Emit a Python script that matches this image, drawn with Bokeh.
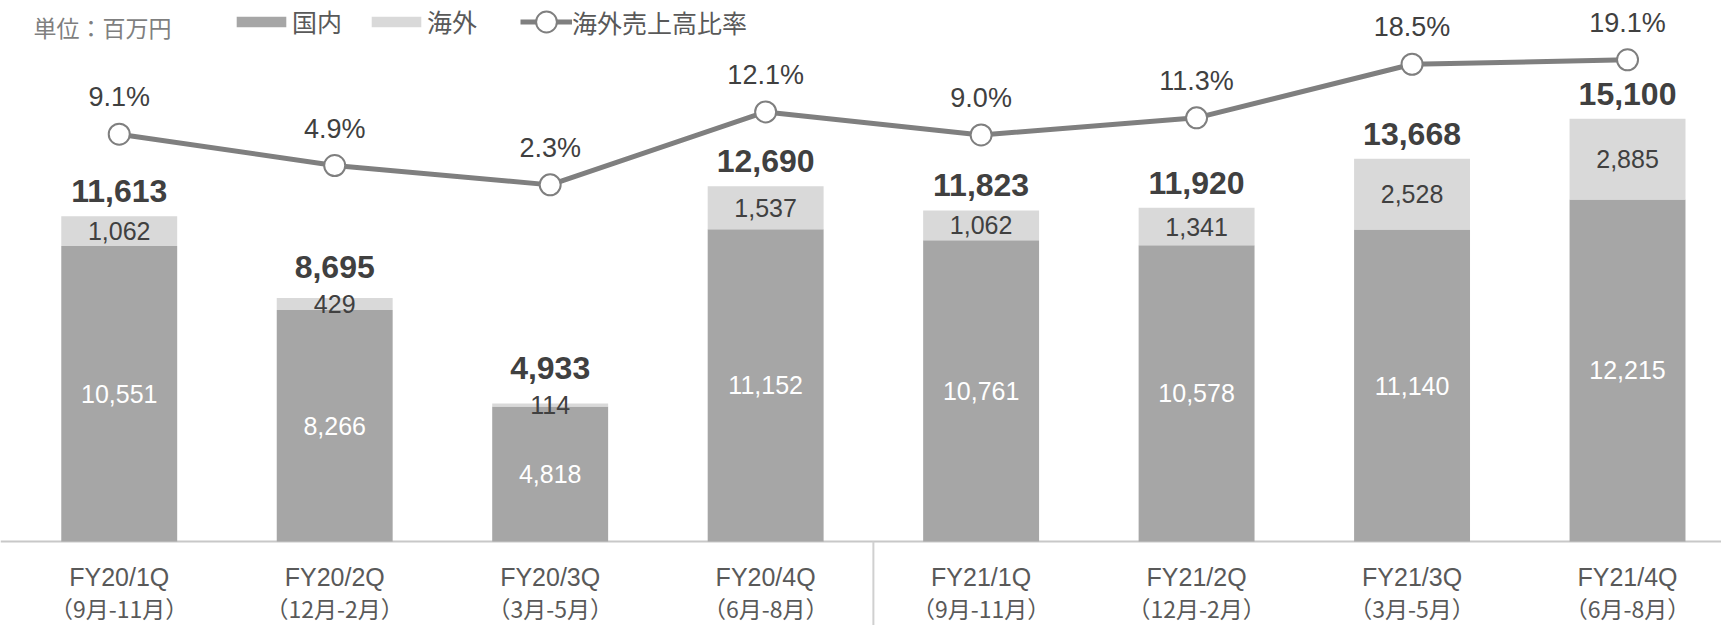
from bokeh.plotting import figure
from bokeh.models import ColumnDataSource, Range1d, Span, Legend, LegendItem, Label
from bokeh.core.properties import value
from bokeh.embed import file_html
from bokeh.resources import INLINE

# ---- data ----
quarters = ["FY20/1Q", "FY20/2Q", "FY20/3Q", "FY20/4Q",
            "FY21/1Q", "FY21/2Q", "FY21/3Q", "FY21/4Q"]
periods = ["（9月-11月）", "（12月-2月）", "（3月-5月）", "（6月-8月）",
           "（9月-11月）", "（12月-2月）", "（3月-5月）", "（6月-8月）"]
domestic = [10551, 8266, 4818, 11152, 10761, 10578, 11140, 12215]
overseas = [1062, 429, 114, 1537, 1062, 1341, 2528, 2885]
totals = [11613, 8695, 4933, 12690, 11823, 11920, 13668, 15100]
ratio = [9.1, 4.9, 2.3, 12.1, 9.0, 11.3, 18.5, 19.1]

# ---- layout constants (page has no margin: canvas == page) ----
W, H = 1721, 625
PX_CAT = 215.47           # px per category
X0 = -11 / PX_CAT
X1 = X0 + W / PX_CAT
K = 0.0280                # px per million yen
Y1 = 541 / K
Y0 = -(H - 541) / K
KR = 7.446                # px per percent
R1 = 201.5 / KR
R0 = -(H - 201.5) / KR

LATIN = "Liberation Sans"
CJK = "Noto Sans CJK JP"

def px_to_x(px):
    return X0 + px / PX_CAT

def py_to_y(py):
    return Y1 - py / K

xs = [i + 0.5 for i in range(len(quarters))]
dom_mid = [d / 2 for d in domestic]
ov_mid = [d + o / 2 for d, o in zip(domestic, overseas)]
# total labels sit above the bar, or above the overseas label if it overflows
total_anchor = [max(t, m + 12 / K) for t, m in zip(totals, ov_mid)]

src = ColumnDataSource(dict(
    x=xs, domestic=domestic, overseas=overseas, ratio=ratio,
    dom_mid=dom_mid, ov_mid=ov_mid, total_anchor=total_anchor,
    dom_txt=[f"{v:,}" for v in domestic],
    ov_txt=[f"{v:,}" for v in overseas],
    tot_txt=[f"{v:,}" for v in totals],
    pct_txt=[f"{v:.1f}%" for v in ratio],
    q=quarters, per=periods, zero=[0] * len(quarters),
))

p = figure(width=W, height=H, x_range=Range1d(X0, X1), y_range=Range1d(Y0, Y1),
           output_backend="svg", toolbar_location=None,
           x_axis_location=None, y_axis_location=None,
           min_border=0, min_border_left=0, min_border_right=0,
           min_border_top=0, min_border_bottom=0)
p.extra_y_ranges = {"ratio": Range1d(R0, R1)}
p.grid.visible = False
p.outline_line_color = None
p.background_fill_color = "white"
p.border_fill_color = "white"

# baseline (axis line) and FY separator
p.add_layout(Span(location=0, dimension="width", line_color="#c8c8c8",
                  line_width=2, level="underlay"))
sep = quarters.index("FY21/1Q")
p.segment(x0=[sep], y0=[0], x1=[sep], y1=[Y0], line_color="#d0d0d0", line_width=2)

bars = p.vbar_stack(["domestic", "overseas"], x="x", width=0.538,
                    color=["#a6a6a6", "#d9d9d9"], line_color=None, source=src)

line_r = p.line("x", "ratio", source=src, y_range_name="ratio",
                line_color="#7f7f7f", line_width=5)
dots_r = p.scatter("x", "ratio", source=src, y_range_name="ratio", size=21,
                   fill_color="white", line_color="#7f7f7f", line_width=2)

# value labels
p.text("x", "dom_mid", text="dom_txt", source=src, text_align="center",
       text_baseline="middle", text_font=value(LATIN), text_font_size="25px",
       text_color="white")
p.text("x", "ov_mid", text="ov_txt", source=src, text_align="center",
       text_baseline="middle", text_font=value(LATIN), text_font_size="25px",
       text_color="#404040")
p.text("x", "total_anchor", text="tot_txt", source=src, text_align="center",
       text_baseline="middle", text_font=value(LATIN), text_font_size="32px",
       text_font_style="bold", text_color="#404040", y_offset=-25)
p.text("x", "ratio", text="pct_txt", source=src, y_range_name="ratio",
       text_align="center", text_baseline="middle", text_font=value(LATIN),
       text_font_size="27px", text_color="#404040", y_offset=-37)

# category labels
p.text("x", "zero", text="q", source=src, text_align="center",
       text_baseline="middle", text_font=value(LATIN), text_font_size="25px",
       text_color="#595959", y_offset=35)
p.text("x", "zero", text="per", source=src, text_align="center",
       text_baseline="middle", text_font=value(CJK), text_font_size="23px",
       text_color="#595959", y_offset=66)

# unit note
p.add_layout(Label(x=px_to_x(33), y=py_to_y(26), text="単位：百万円",
                   text_align="left", text_baseline="middle",
                   text_font=CJK, text_font_size="23px", text_color="#7f7f7f"))

common = dict(orientation="horizontal", label_standoff=0, padding=0, margin=0,
              border_line_color=None, background_fill_alpha=0,
              label_text_font=CJK, label_text_font_size="25px",
              label_text_color="#595959")
legend_bars = Legend(
    items=[LegendItem(label="国内", renderers=[bars[0]]),
           LegendItem(label="海外", renderers=[bars[1]])],
    location=(230, 586), glyph_width=62, glyph_height=13, spacing=23, **common)
legend_line = Legend(
    items=[LegendItem(label="海外売上高比率", renderers=[line_r, dots_r])],
    location=(520, 577), glyph_width=52, glyph_height=53, spacing=0, **common)
p.add_layout(legend_bars)
p.add_layout(legend_line)

open("out.html", "w").write(file_html(p, INLINE))
